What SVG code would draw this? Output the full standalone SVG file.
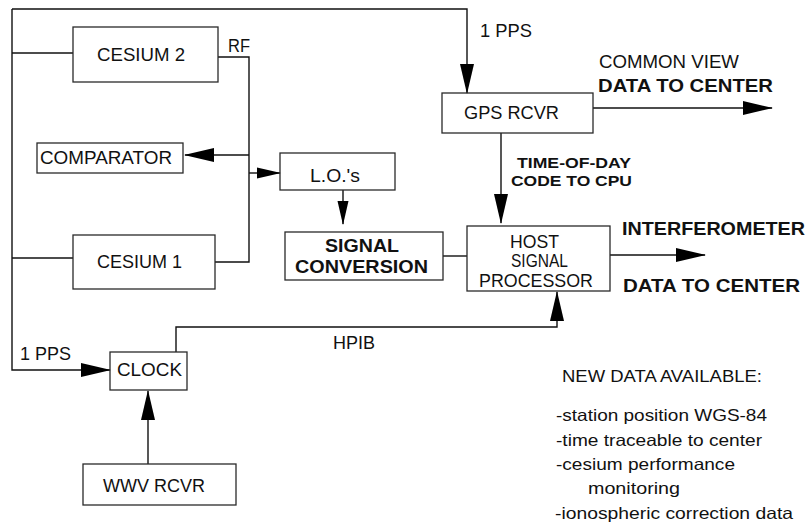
<svg xmlns="http://www.w3.org/2000/svg" width="811" height="529" viewBox="0 0 811 529">
<defs>
<style>
.box{fill:none;stroke:#2a2a2a;stroke-width:1.3}
.ln{fill:none;stroke:#111;stroke-width:1.4}
.a{marker-end:url(#ah)}
.as{marker-end:url(#ahs)}
text{font-family:"Liberation Sans",Arial,Helvetica,sans-serif;fill:#111}
.t{font-size:18.5px}
.b{font-size:19px;font-weight:bold}
.s{font-size:16.5px}
.k{font-size:15.5px;font-weight:bold}
</style>
<marker id="ah" markerUnits="userSpaceOnUse" markerWidth="30" markerHeight="16" refX="29" refY="8" orient="auto">
<path d="M0,1 L30,8 L0,15 z" fill="#000"/>
</marker>
<marker id="ahs" markerUnits="userSpaceOnUse" markerWidth="24" markerHeight="12" refX="23" refY="6" orient="auto">
<path d="M0,0.5 L24,6 L0,11.5 z" fill="#000"/>
</marker>
</defs>
<rect width="811" height="529" fill="#fff"/>

<g id="connectors">
<path class="ln a" d="M12,9 V370 H110"/>
<path class="ln a" d="M12,9 H467 V93"/>
<path class="ln" d="M12,53 H73"/>
<path class="ln" d="M12,258 H73"/>
<path class="ln" d="M218,57 H249 V262 H215"/>
<path class="ln a" d="M249,155 H185"/>
<path class="ln as" d="M249,173 H280"/>
<path class="ln as" d="M343,190 V224"/>
<path class="ln a" d="M593,108 H772"/>
<path class="ln a" d="M501,133 V223"/>
<path class="ln" d="M443,256 H467"/>
<path class="ln a" d="M610,255 H705"/>
<path class="ln a" d="M176,352 V327 H557 V292"/>
<path class="ln a" d="M148,464 V391"/>
</g>

<g id="labels">
<text class="t" x="228" y="52" textLength="22" lengthAdjust="spacingAndGlyphs">RF</text>
<text class="t" x="480" y="37" textLength="52" lengthAdjust="spacingAndGlyphs">1 PPS</text>
<text class="t" x="20" y="360" textLength="51" lengthAdjust="spacingAndGlyphs">1 PPS</text>
<text class="t" x="333" y="349" textLength="42" lengthAdjust="spacingAndGlyphs">HPIB</text>
<text class="t" x="599" y="68" textLength="140" lengthAdjust="spacingAndGlyphs">COMMON VIEW</text>
<text class="b" x="598" y="92" font-size="20" textLength="175" lengthAdjust="spacingAndGlyphs">DATA TO CENTER</text>
<text class="k" x="517" y="168" textLength="114" lengthAdjust="spacingAndGlyphs">TIME-OF-DAY</text>
<text class="k" x="511" y="186" textLength="121" lengthAdjust="spacingAndGlyphs">CODE TO CPU</text>
<text class="b" x="622" y="235" textLength="183" lengthAdjust="spacingAndGlyphs">INTERFEROMETER</text>
<text class="b" x="623" y="292" textLength="177" lengthAdjust="spacingAndGlyphs">DATA TO CENTER</text>
<text class="s" x="562" y="382" textLength="200" lengthAdjust="spacingAndGlyphs">NEW DATA AVAILABLE:</text>
<text class="s" x="556" y="421" textLength="211" lengthAdjust="spacingAndGlyphs">-station position WGS-84</text>
<text class="s" x="556" y="446" textLength="206" lengthAdjust="spacingAndGlyphs">-time traceable to center</text>
<text class="s" x="556" y="470" textLength="179" lengthAdjust="spacingAndGlyphs">-cesium performance</text>
<text class="s" x="588" y="494" textLength="92" lengthAdjust="spacingAndGlyphs">monitoring</text>
<text class="s" x="555" y="519" textLength="238" lengthAdjust="spacingAndGlyphs">-ionospheric correction data</text>
</g>

<g id="cesium2">
<rect class="box" x="73" y="27" width="145" height="55"/>
<text class="t" x="97" y="61" textLength="88" lengthAdjust="spacingAndGlyphs">CESIUM 2</text>
</g>
<g id="comparator">
<rect class="box" x="37" y="143" width="146" height="30"/>
<text class="t" x="40" y="164" textLength="132" lengthAdjust="spacingAndGlyphs">COMPARATOR</text>
</g>
<g id="los">
<rect class="box" x="280" y="153" width="115" height="37"/>
<text class="t" x="310" y="182" textLength="50" lengthAdjust="spacingAndGlyphs">L.O.'s</text>
</g>
<g id="cesium1">
<rect class="box" x="73" y="235" width="142" height="54"/>
<text class="t" x="97" y="268" textLength="85" lengthAdjust="spacingAndGlyphs">CESIUM 1</text>
</g>
<g id="signal-conversion">
<rect class="box" x="285" y="232" width="158" height="48"/>
<text class="b" x="325" y="252" textLength="74" lengthAdjust="spacingAndGlyphs">SIGNAL</text>
<text class="b" x="295" y="273" textLength="133" lengthAdjust="spacingAndGlyphs">CONVERSION</text>
</g>
<g id="gps-rcvr">
<rect class="box" x="442" y="93" width="151" height="40"/>
<text class="t" x="464" y="119" textLength="95" lengthAdjust="spacingAndGlyphs">GPS RCVR</text>
</g>
<g id="host">
<rect class="box" x="467" y="226" width="143" height="65"/>
<text class="t" x="510" y="248" textLength="49" lengthAdjust="spacingAndGlyphs">HOST</text>
<text class="t" x="511" y="267" textLength="57" lengthAdjust="spacingAndGlyphs">SIGNAL</text>
<text class="t" x="479" y="287" textLength="114" lengthAdjust="spacingAndGlyphs">PROCESSOR</text>
</g>
<g id="clock">
<rect class="box" x="110" y="352" width="77" height="38"/>
<text class="t" x="117" y="376" textLength="65" lengthAdjust="spacingAndGlyphs">CLOCK</text>
</g>
<g id="wwv-rcvr">
<rect class="box" x="83" y="464" width="153" height="41"/>
<text class="t" x="103" y="492" textLength="102" lengthAdjust="spacingAndGlyphs">WWV RCVR</text>
</g>
</svg>
